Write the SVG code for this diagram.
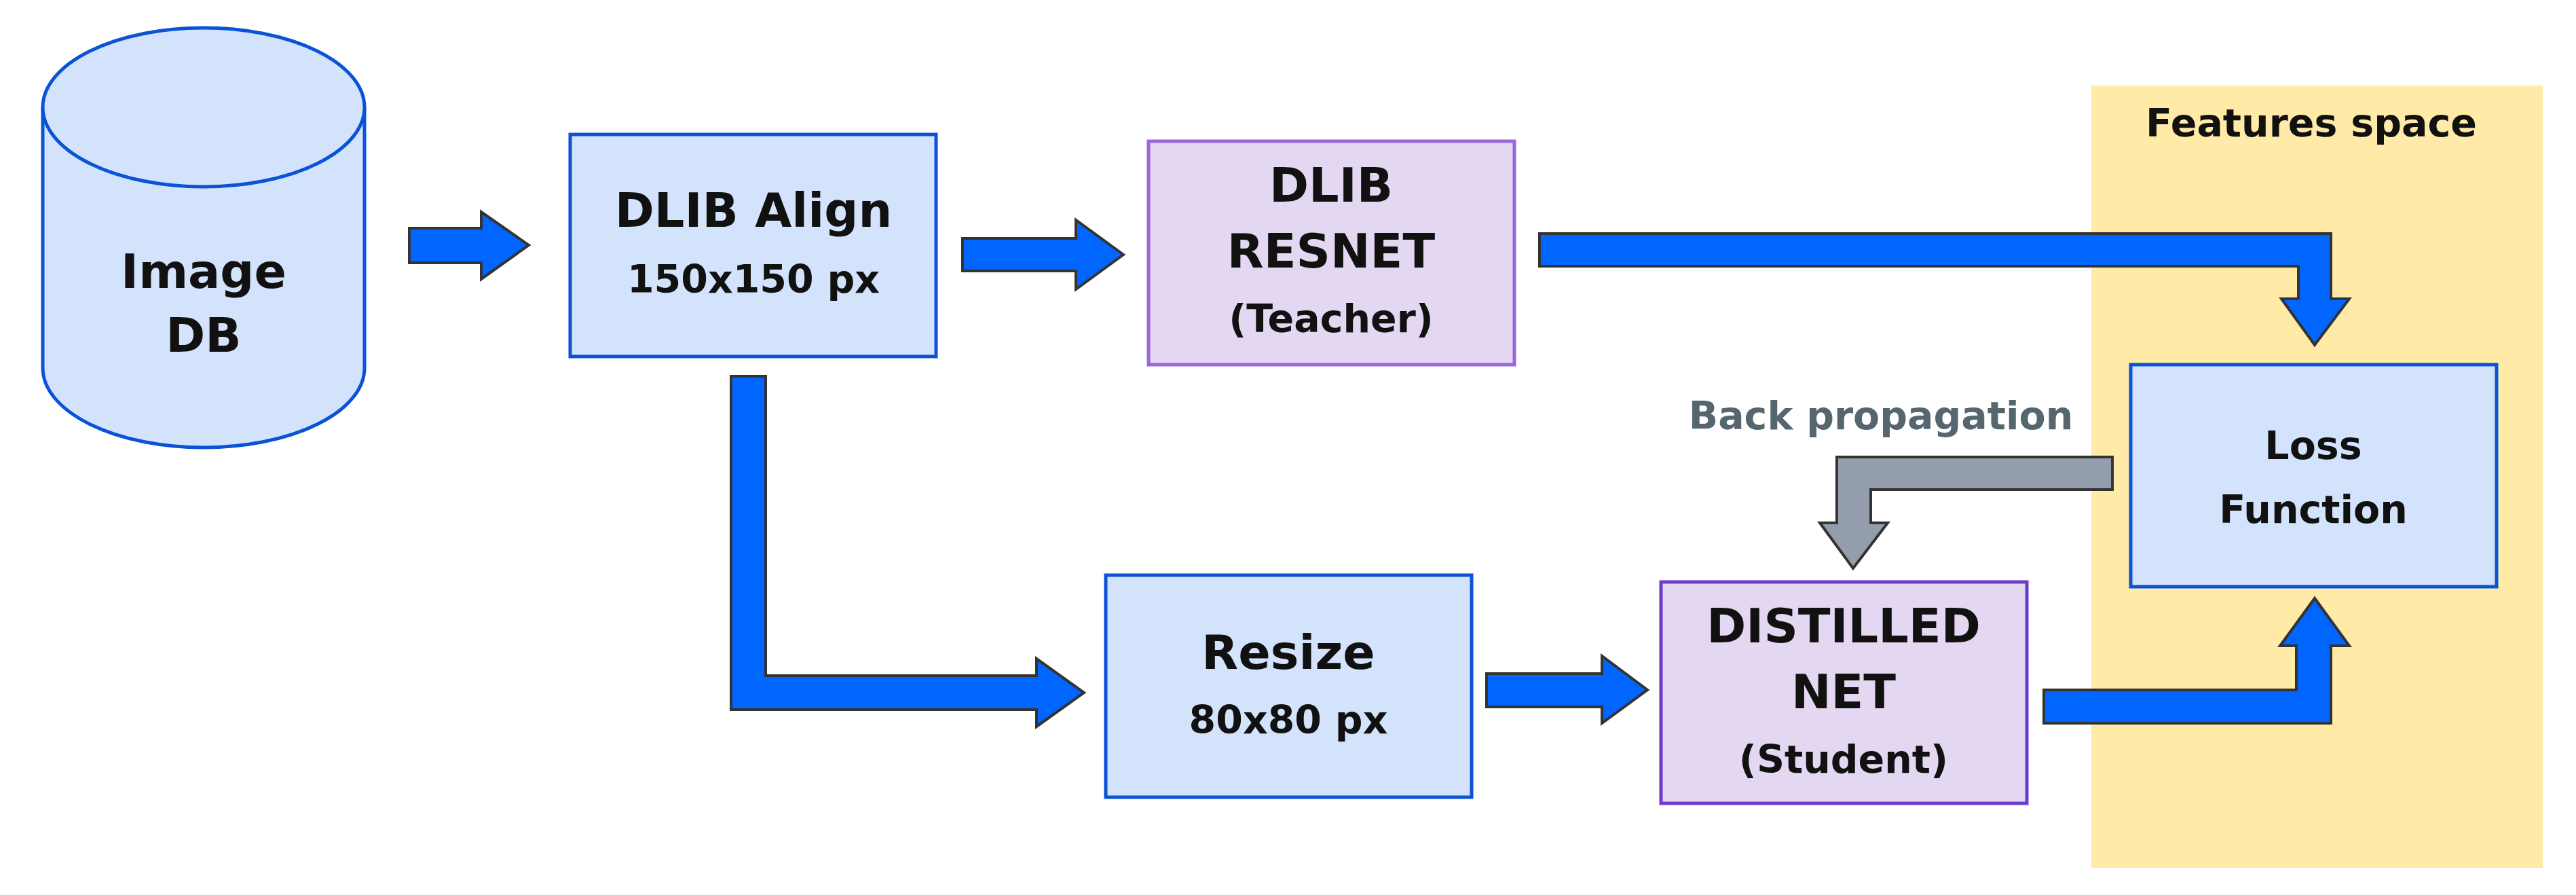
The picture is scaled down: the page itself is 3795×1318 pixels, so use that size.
<svg xmlns="http://www.w3.org/2000/svg" width="3795" height="1318" viewBox="0 0 3795 1318">
<style>
text{font-family:"DejaVu Sans",sans-serif;font-weight:bold;fill:#111;text-anchor:middle;dominant-baseline:central}
.t{font-size:70px}.s{font-size:57px}
.blue{fill:#d4e3fc;stroke:#0a52d6;stroke-width:5}
.purp{fill:#e3d7f2;stroke-width:5}
.arr{fill:#0066ff;stroke:#333;stroke-width:4;stroke-linejoin:miter}
</style>
<rect x="3081" y="126" width="665" height="1152" fill="#ffeaa8"/>
<text x="3405" y="181" class="s">Features space</text>
<g id="imagedb">
<path class="blue" d="M63 158 V542 A237 117 0 0 0 537 542 V158"/>
<ellipse class="blue" cx="300" cy="158" rx="237" ry="117"/>
<text x="300" y="400" class="t">Image</text>
<text x="300" y="494" class="t">DB</text>
</g>
<g id="align"><rect class="blue" x="840" y="198" width="539" height="327"/>
<text x="1110" y="310" class="t">DLIB Align</text><text x="1110" y="411" class="s">150x150 px</text></g>
<g id="resnet"><rect class="purp" stroke="#9966dd" x="1692" y="208" width="539" height="329"/>
<text x="1961" y="273" class="t">DLIB</text><text x="1961" y="370" class="t">RESNET</text><text x="1961" y="469" class="s">(Teacher)</text></g>
<g id="resize"><rect class="blue" x="1629" y="847" width="539" height="327"/>
<text x="1898" y="961" class="t">Resize</text><text x="1898" y="1060" class="s">80x80 px</text></g>
<g id="distilled"><rect class="purp" stroke="#6e3ccc" x="2447" y="857" width="539" height="326"/>
<text x="2716" y="922" class="t">DISTILLED</text><text x="2716" y="1019" class="t">NET</text><text x="2716" y="1118" class="s">(Student)</text></g>
<g id="loss"><rect class="blue" x="3139" y="537" width="539" height="327"/>
<text x="3408" y="656" class="s">Loss</text><text x="3408" y="750" class="s">Function</text></g>
<g id="connectors">
<path class="arr" d="M603 336 H709 V312 L779 361 L709 411 V387 H603 Z"/>
<path class="arr" d="M1418 351 H1585 V324 L1655 375 L1585 426 V399 H1418 Z"/>
<path class="arr" d="M2268 344 H3434 V440 H3461 L3410 508 L3361 440 H3386 V392 H2268 Z"/>
<path class="arr" d="M1077 554 H1128 V995 H1527 V970 L1597 1020 L1527 1070 V1045 H1077 Z"/>
<path class="arr" d="M2190 992 H2360 V966 L2427 1016 L2360 1065 V1041 H2190 Z"/>
<path class="arr" d="M3011 1016 H3383 V951 H3359 L3410 881 L3461 951 H3434 V1065 H3011 Z"/>
<path fill="#939dab" stroke="#333" stroke-width="4" d="M3112 673 V721 H2756 V770 H2781 L2730 837 L2681 770 H2706 V673 Z"/>
<text x="2771" y="612" class="s" style="fill:#56666e">Back propagation</text>
</g>
</svg>
